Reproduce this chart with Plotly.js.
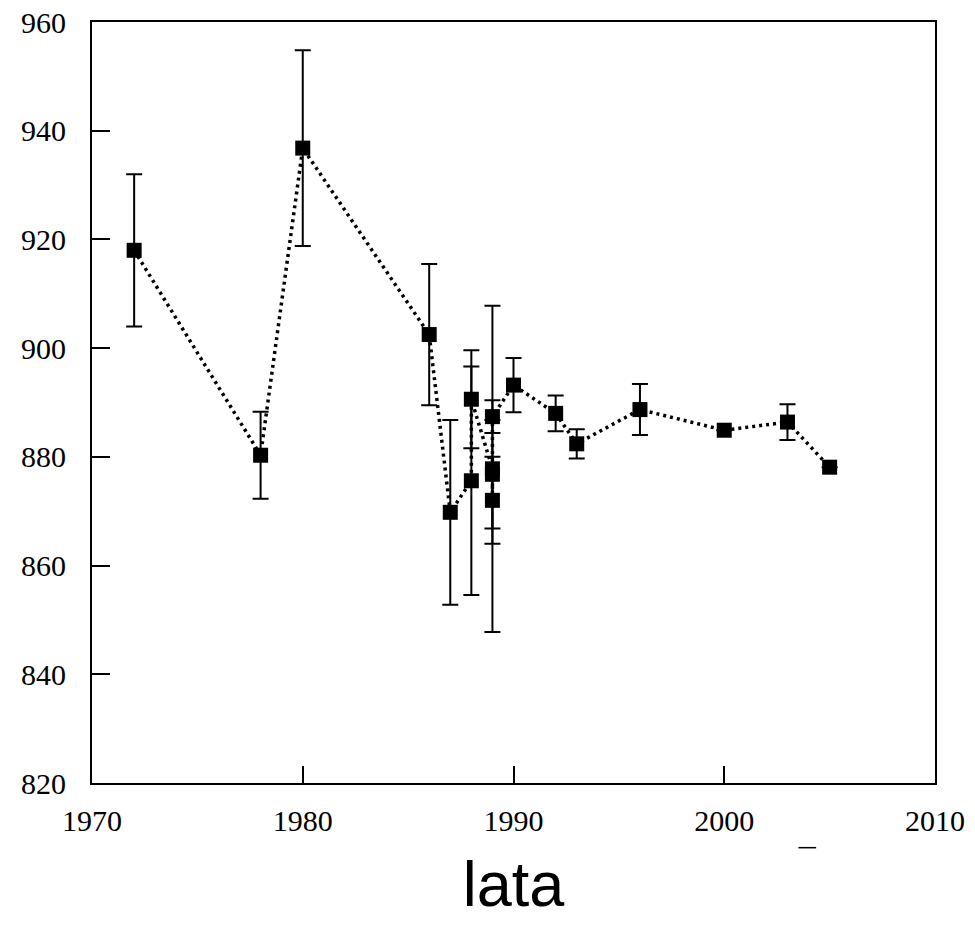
<!DOCTYPE html>
<html>
<head>
<meta charset="utf-8">
<script src="https://cdn.plot.ly/plotly-3.0.1.min.js"></script>
<style>html,body{margin:0;padding:0;background:#fff;}#chart{width:975px;height:936px;}</style>
</head>
<body>
<div id="chart"></div>
<script>
// Data
const years  = [1972, 1978, 1980, 1986, 1987, 1988, 1988, 1989, 1989, 1989, 1989, 1990, 1992, 1993, 1996, 2000, 2003, 2005];
const values = [918, 880.3, 936.8, 902.5, 869.8, 875.6, 890.6, 877.8, 876.8, 872, 887.4, 893.2, 888, 882.4, 888.7, 884.9, 886.4, 878.1];
const errors = [14, 8, 18, 13, 17, 21, 9, 30, 10, 8, 3, 5, 3.3, 2.7, 4.7, 0, 3.3, 0];
const xTicks = [1970, 1980, 1990, 2000, 2010];
const yTicks = [820, 840, 860, 880, 900, 920, 940, 960];
const xTitle = 'lata';

const trace = {
  x: years,
  y: values,
  type: 'scatter',
  mode: 'lines+markers',
  line: {color: '#000', width: 3.5, dash: '3px,4px'},
  marker: {symbol: 'square', size: 15, color: '#000'},
  error_y: {type: 'data', array: errors, visible: true, color: '#000', thickness: 2, width: 8},
  showlegend: false,
  hoverinfo: 'skip'
};

const tickFont = {family: '"Liberation Serif", "Times New Roman", serif', size: 30, color: '#000'};

const layout = {
  width: 975, height: 936,
  margin: {l: 92, r: 40, t: 22, b: 153},
  paper_bgcolor: '#fff', plot_bgcolor: '#fff',
  xaxis: {
    range: [1970, 2010], tickvals: xTicks, ticktext: xTicks.map(String),
    ticks: 'inside', ticklen: 17, tickwidth: 2, tickcolor: '#000',
    showline: true, linecolor: '#000', linewidth: 2, mirror: true,
    showgrid: false, zeroline: false, tickfont: tickFont,
    ticklabelstandoff: 10,
    title: {text: xTitle, font: {family: '"Liberation Sans", Arial, sans-serif', size: 63, color: '#000'}, standoff: 26}
  },
  yaxis: {
    range: [820, 960], tickvals: yTicks, ticktext: yTicks.map(String),
    ticks: 'inside', ticklen: 18, tickwidth: 2, tickcolor: '#000',
    showline: true, linecolor: '#000', linewidth: 2, mirror: true,
    showgrid: false, zeroline: false, tickfont: tickFont,
    ticklabelstandoff: 18
  },
  shapes: [
    {type: 'line', xref: 'paper', yref: 'paper', x0: 0.838, x1: 0.859, y0: -0.085, y1: -0.085,
     line: {color: '#000', width: 1.5}}
  ]
};

Plotly.newPlot('chart', [trace], layout, {displayModeBar: false, staticPlot: true});
</script>
</body>
</html>
